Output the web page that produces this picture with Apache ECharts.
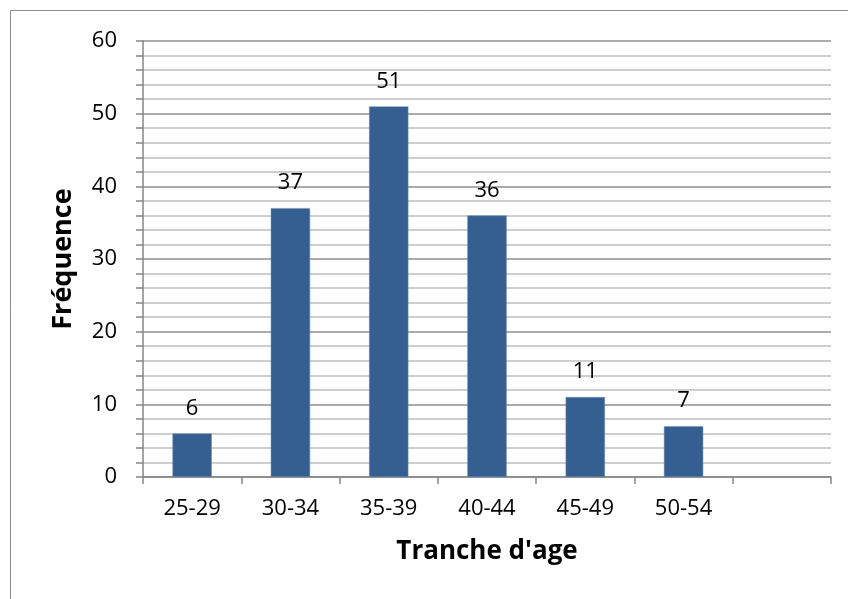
<!DOCTYPE html>
<html>
<head>
<meta charset="utf-8">
<script src="https://cdn.jsdelivr.net/npm/echarts@6/dist/echarts.min.js"></script>
<style>
  html, body { margin: 0; padding: 0; background: #fff; }
  #chart { width: 848px; height: 599px; }
</style>
</head>
<body>
<div id="chart"></div>
<script>
  // tranches d'age (la derniere categorie est vide dans l'original)
  var categories = ['25-29', '30-34', '35-39', '40-44', '45-49', '50-54', ''];
  var frequences = [6, 37, 51, 36, 11, 7, null];
  var yTicks = [0, 10, 20, 30, 40, 50, 60];

  var font = 'Open Sans';
  var chart = echarts.init(document.getElementById('chart'));

  var option = {
    backgroundColor: '#FFFFFF',
    animation: false,
    textStyle: { fontFamily: font },
    graphic: [{
      type: 'rect',
      shape: { x: 10.5, y: 10.5, width: 900, height: 700 },
      style: { fill: 'none', stroke: '#8c8c8c', lineWidth: 1 },
      silent: true
    }],
    grid: { left: 143, right: 17, top: 41, bottom: 122 },
    xAxis: {
      type: 'category',
      data: categories,
      name: "Tranche d'age",
      nameLocation: 'middle',
      nameGap: 62,
      nameTextStyle: { fontFamily: font, fontSize: 26, fontWeight: 'bold', color: '#000' },
      axisLine: { lineStyle: { color: '#868686', width: 1.5 } },
      axisTick: { show: true, length: 7, lineStyle: { color: '#868686', width: 1.5 } },
      axisLabel: { fontFamily: font, fontSize: 22, color: '#000', margin: 21 }
    },
    yAxis: {
      type: 'value',
      min: yTicks[0],
      max: yTicks[yTicks.length - 1],
      interval: 10,
      name: 'Fréquence',
      nameLocation: 'middle',
      nameGap: 66,
      nameRotate: 90,
      nameTextStyle: { fontFamily: font, fontSize: 27, fontWeight: 'bold', color: '#000' },
      axisLine: { show: true, lineStyle: { color: '#868686', width: 1.5 } },
      axisTick: { show: true, length: 7, lineStyle: { color: '#868686', width: 1.5 } },
      minorTick: { show: true, splitNumber: 5, length: 7, lineStyle: { color: '#868686', width: 1.5 } },
      axisLabel: { fontFamily: font, fontSize: 22, color: '#000', margin: 26 },
      splitLine: { show: true, lineStyle: { color: '#8f8f8f', width: 1.5 } },
      minorSplitLine: { show: true, lineStyle: { color: '#bfbfbf', width: 1.5 } }
    },
    series: [{
      type: 'bar',
      data: frequences,
      barWidth: '40%',
      itemStyle: { color: '#365F91', borderColor: '#6f8fb5', borderWidth: 0.5 },
      label: {
        show: true,
        position: 'top',
        distance: 14,
        fontFamily: font,
        fontSize: 22,
        color: '#000'
      }
    }]
  };

  chart.setOption(option);
</script>
</body>
</html>
